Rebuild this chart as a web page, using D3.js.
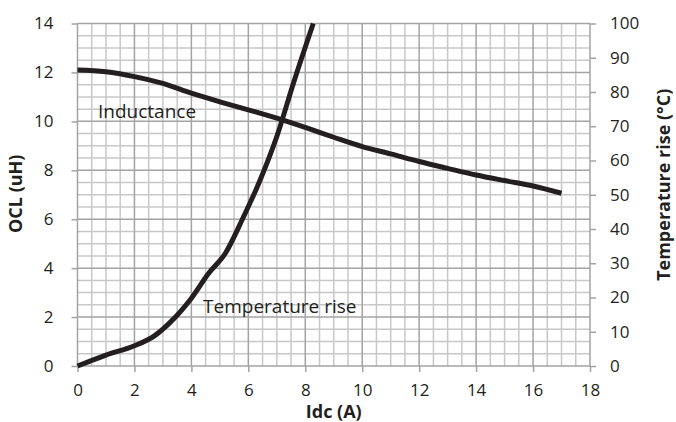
<!DOCTYPE html>
<html>
<head>
<meta charset="utf-8">
<script src="https://cdn.jsdelivr.net/npm/d3@7"></script>
<style>
  body { margin: 0; background: #fff; }
  text { font-family: "Open Sans", Lato, sans-serif; fill: #231f20; }
</style>
</head>
<body>
<svg id="chart"></svg>
<script>
// Chart data
var idcInd = [0, 1, 2, 3, 4, 5, 6, 7, 8, 9, 10, 11, 12, 13, 14, 15, 16, 17];
var oclVals = [12.1, 12.03, 11.83, 11.55, 11.15, 10.8, 10.47, 10.13, 9.75, 9.35, 8.97, 8.67, 8.36, 8.08, 7.81, 7.58, 7.36, 7.06];
var idcTemp = [0, 1, 2, 2.7, 3.2, 4, 4.6, 5.2, 5.8, 6.4, 7, 7.6, 8.28];
var tempVals = [0, 3.2, 5.9, 8.8, 12.3, 19.8, 27, 33, 43, 54, 67, 83, 100];
var xTicks = [0, 2, 4, 6, 8, 10, 12, 14, 16, 18];
var yTicks = [0, 2, 4, 6, 8, 10, 12, 14];
var tTicks = [0, 10, 20, 30, 40, 50, 60, 70, 80, 90, 100];

// Canvas size
const W = 676, H = 422;
const margin = {top: 23.5, right: 86, bottom: 56, left: 77.5},
    width = W - margin.left - margin.right,
    height = H - margin.top - margin.bottom;

var svg = d3.select("#chart")
    .attr("width", W)
    .attr("height", H)
    .append("g")
    .attr("transform", "translate(" + margin.left + "," + margin.top + ")");

var xScale = d3.scaleLinear().domain([0, 18]).range([0, width]);
var yScale = d3.scaleLinear().domain([0, 14]).range([height, 0]);
var tScale = d3.scaleLinear().domain([0, 100]).range([height, 0]);

// Grid: minor every 0.5, major every 2
var minor = d3.range(0, 18.01, 0.5), minorY = d3.range(0, 14.01, 0.5);
var grid = svg.append("g");
grid.selectAll(".vminor").data(minor.filter(function(d){ return d % 2 !== 0; }))
  .enter().append("line")
    .attr("x1", function(d){ return xScale(d); }).attr("x2", function(d){ return xScale(d); })
    .attr("y1", 0).attr("y2", height)
    .attr("stroke", "#c8c8c8").attr("stroke-width", 1.5);
grid.selectAll(".hminor").data(minorY.filter(function(d){ return d % 2 !== 0; }))
  .enter().append("line")
    .attr("y1", function(d){ return yScale(d); }).attr("y2", function(d){ return yScale(d); })
    .attr("x1", 0).attr("x2", width)
    .attr("stroke", "#c8c8c8").attr("stroke-width", 1.5);
grid.selectAll(".vmajor").data(xTicks)
  .enter().append("line")
    .attr("x1", function(d){ return xScale(d); }).attr("x2", function(d){ return xScale(d); })
    .attr("y1", 0).attr("y2", height)
    .attr("stroke", "#a3a3a3").attr("stroke-width", 1.5);
grid.selectAll(".hmajor").data(yTicks)
  .enter().append("line")
    .attr("y1", function(d){ return yScale(d); }).attr("y2", function(d){ return yScale(d); })
    .attr("x1", 0).attr("x2", width)
    .attr("stroke", "#a3a3a3").attr("stroke-width", 1.5);

// Axes
function styleAxis(g) {
  g.select(".domain").remove();
  g.selectAll(".tick line").attr("stroke", "#a3a3a3").attr("stroke-width", 1.5);
  g.selectAll(".tick text").style("font-size", "17px").attr("fill", "#231f20");
}
svg.append("g")
    .attr("transform", "translate(0," + height + ")")
    .call(d3.axisBottom(xScale).tickValues(xTicks).tickSize(6).tickPadding(12))
    .call(styleAxis);
svg.append("g")
    .call(d3.axisLeft(yScale).tickValues(yTicks).tickSize(6).tickPadding(18))
    .call(styleAxis);
svg.append("g")
    .attr("transform", "translate(" + width + ",0)")
    .call(d3.axisRight(tScale).tickValues(tTicks).tickSize(6).tickPadding(14))
    .call(styleAxis);

// Curves
var indLine = d3.line()
    .x(function(d, i){ return xScale(idcInd[i]); })
    .y(function(d){ return yScale(d); })
    .curve(d3.curveMonotoneX);
var tempLine = d3.line()
    .x(function(d, i){ return xScale(idcTemp[i]); })
    .y(function(d){ return tScale(d); })
    .curve(d3.curveMonotoneX);

svg.append("path").datum(oclVals)
    .attr("d", indLine)
    .attr("fill", "none").attr("stroke", "#231f20").attr("stroke-width", 5);
svg.append("path").datum(tempVals)
    .attr("d", tempLine)
    .attr("fill", "none").attr("stroke", "#231f20").attr("stroke-width", 5);

// Curve labels
svg.append("text").attr("x", xScale(0.72)).attr("y", yScale(10.14))
    .style("font-size", "19px").text("Inductance");
svg.append("text").attr("x", xScale(4.41)).attr("y", yScale(2.17))
    .style("font-size", "19px").text("Temperature rise");

// Axis titles
svg.append("text")
    .attr("x", width / 2).attr("y", height + 52)
    .attr("text-anchor", "middle")
    .style("font-size", "18px").style("font-weight", "bold")
    .text("Idc (A)");
svg.append("text")
    .attr("transform", "translate(" + (-55.5) + "," + (height / 2 - 1) + ") rotate(-90)")
    .attr("text-anchor", "middle")
    .style("font-size", "18px").style("font-weight", "bold")
    .text("OCL (uH)");
svg.append("text")
    .attr("transform", "translate(" + (width + 80) + "," + (height / 2 - 10) + ") rotate(-90)")
    .attr("text-anchor", "middle")
    .style("font-size", "18px").style("font-weight", "bold")
    .text("Temperature rise (°C)");
</script>
</body>
</html>
